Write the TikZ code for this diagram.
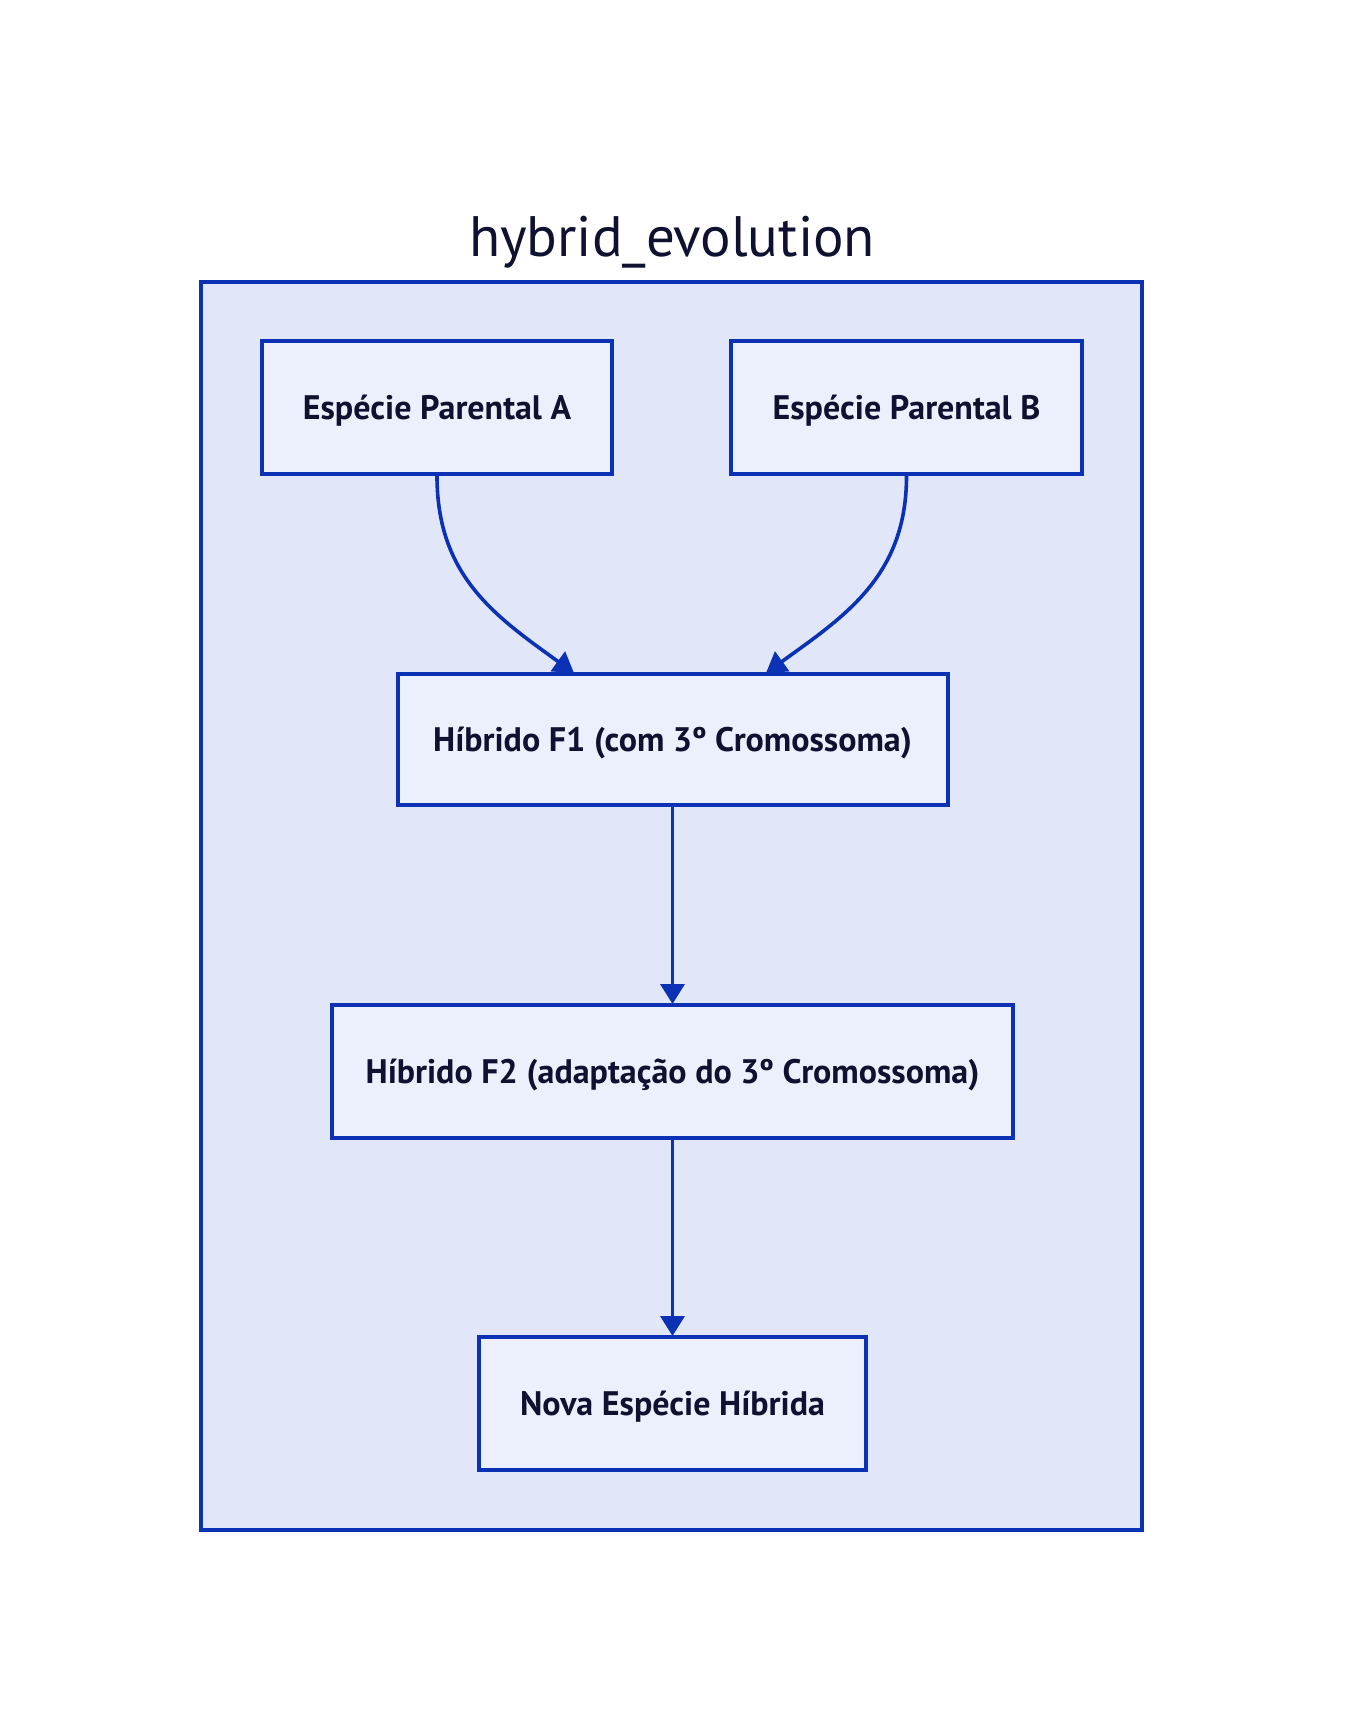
\documentclass[tikz,border=0pt]{standalone}
\usepackage{fontspec}
\setmainfont{PT Sans}
\usetikzlibrary{arrows.meta}
\definecolor{strk}{HTML}{0B32B5}
\definecolor{clfill}{HTML}{E1E7F9}
\definecolor{ndfill}{HTML}{ECF0FC}
\definecolor{txt}{HTML}{0E1230}
\begin{document}
\begin{tikzpicture}[x=1pt,y=-1pt,
  box/.style={draw=strk, fill=ndfill, line width=4pt, inner sep=0pt, text=txt,
    font=\bfseries\fontsize{34}{40}\selectfont, text height=24pt, text depth=0pt},
  arr/.style={draw=strk, line width=3.6pt, -{Triangle[length=20pt,width=24pt]}}]
\useasboundingbox (0,0) rectangle (1344,1732);
\fill[white] (0,0) rectangle (1344,1732);
\node[draw=strk, fill=clfill, line width=4pt, minimum width=941pt, minimum height=1248pt, inner sep=0pt] (frame) at (671.5,906) {};
\node[anchor=base, text=txt, font=\fontsize{57}{66}\selectfont, inner sep=0pt] (title) at (672,256) {hybrid\_evolution};
\node[box, minimum width=350pt, minimum height=133pt] (a) at (437,407.5) {Espécie Parental A};
\node[box, minimum width=351pt, minimum height=133pt] (b) at (906.5,407.5) {Espécie Parental B};
\node[box, minimum width=550pt, minimum height=131pt] (f1) at (672.5,739.5) {Híbrido F1 (com 3º Cromossoma)};
\node[box, minimum width=681pt, minimum height=133pt] (f2) at (672.5,1071.5) {Híbrido F2 (adaptação do 3º Cromossoma)};
\node[box, minimum width=387pt, minimum height=133pt] (nova) at (672.5,1403.5) {Nova Espécie Híbrida};
\coordinate (fa) at ([xshift=178.5pt,yshift=-1pt]f1.north west);
\coordinate (fb) at ([xshift=370.5pt,yshift=-1pt]f1.north west);
\draw[arr] (a.south) .. controls +(0,100) and +(-79,-57) .. (fa);
\draw[arr] (b.south) .. controls +(0,100) and +(79,-57) .. (fb);
\draw[arr] (f1.south) -- ([yshift=-1pt]f2.north);
\draw[arr] (f2.south) -- ([yshift=-1pt]nova.north);
\end{tikzpicture}
\end{document}
